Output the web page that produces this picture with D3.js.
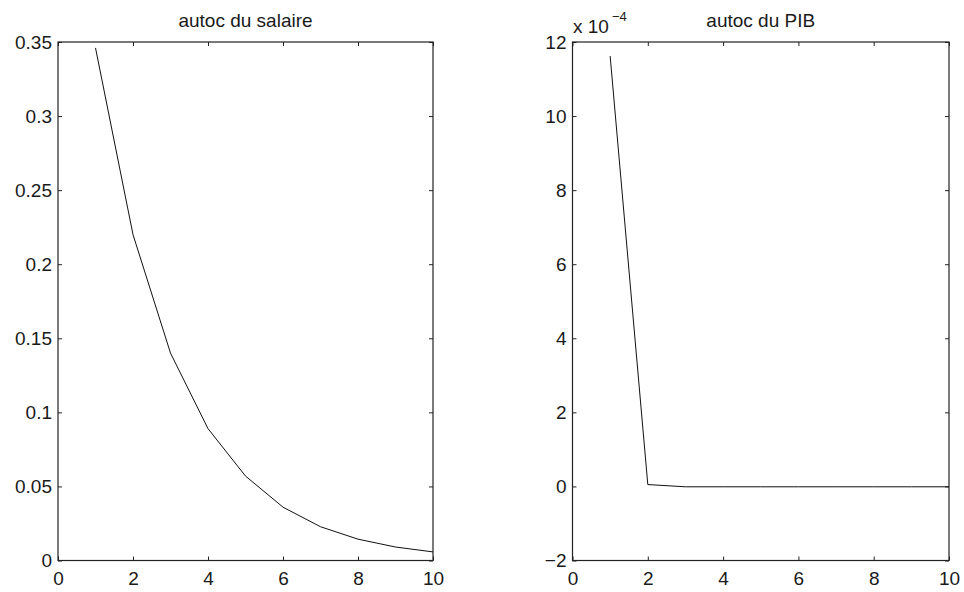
<!DOCTYPE html>
<html><head><meta charset="utf-8">
<script src="https://cdn.jsdelivr.net/npm/d3@7"></script>
<style>body{margin:0;background:#fff}svg{display:block}text{font-family:"Liberation Sans",Arial,sans-serif;fill:#1a1a1a}</style>
</head><body>
<script>
const lags = [1,2,3,4,5,6,7,8,9,10];
const salaire = [0.346,0.220,0.140,0.089,0.057,0.036,0.0228,0.0144,0.0091,0.0058];
const pib = [11.62,0.05,-0.01,-0.01,-0.01,-0.01,-0.01,-0.01,-0.01,-0.01]; // x 1e-4
const xTicks = [0,2,4,6,8,10];
const salaireTicks = [0,0.05,0.1,0.15,0.2,0.25,0.3,0.35];
const pibTicks = [-2,0,2,4,6,8,10,12];
const titles = ["autoc du salaire","autoc du PIB"];

const W=964,H=592;
const svg=d3.select("body").append("svg").attr("width",W).attr("height",H);
const FS=19;

function panel(x0,x1,y0,y1,data,yDom,yTicks,title,fmt,exp){
  const x=d3.scaleLinear().domain([0,10]).range([x0,x1]);
  const y=d3.scaleLinear().domain(yDom).range([y1,y0]);
  const g=svg.append("g");
  const tl=4;
  const axB=d3.axisBottom(x).tickValues(xTicks).tickSizeInner(-tl).tickSizeOuter(0).tickPadding(11).tickFormat(d3.format("d"));
  const axT=d3.axisTop(x).tickValues(xTicks).tickSizeInner(-tl).tickSizeOuter(0).tickFormat("");
  const axL=d3.axisLeft(y).tickValues(yTicks).tickSizeInner(-tl).tickSizeOuter(0).tickPadding(6).tickFormat(fmt);
  const axR=d3.axisRight(y).tickValues(yTicks).tickSizeInner(-tl).tickSizeOuter(0).tickFormat("");
  [[axB,`translate(0,${y1})`],[axT,`translate(0,${y0})`],[axL,`translate(${x0},0)`],[axR,`translate(${x1},0)`]].forEach(([a,t])=>{
    const ag=g.append("g").attr("transform",t).call(a);
    ag.select(".domain").remove();
    ag.selectAll("line").attr("stroke","#222").attr("stroke-width",1);
    ag.selectAll("text").attr("font-size",FS).attr("fill","#1a1a1a").style("font-family","'Liberation Sans',Arial,sans-serif");
  });
  g.append("rect").attr("x",x0).attr("y",y0).attr("width",x1-x0).attr("height",y1-y0)
    .attr("fill","none").attr("stroke","#222").attr("stroke-width",1.2);
  const line=d3.line().x((d,i)=>x(lags[i])).y(d=>y(d));
  g.append("path").datum(data).attr("d",line).attr("fill","none").attr("stroke","#111").attr("stroke-width",1);
  g.append("text").attr("x",(x0+x1)/2).attr("y",y0-15.5).attr("text-anchor","middle").attr("font-size",FS).text(title);
  if(exp){
    const t=g.append("text").attr("x",x0+0.5).attr("y",y0-8.7).attr("font-size",FS);
    t.append("tspan").text("x 10");
    t.append("tspan").attr("dx",3).attr("dy",-12).attr("font-size",13).text("\u22124");
  }
}
panel(58,433,42,560.5,salaire,[0,0.35],salaireTicks,titles[0],d=>d===0?"0":String(d),false);
panel(572.5,949,42,560.5,pib,[-2,12],pibTicks,titles[1],d=>d<0?"\u2212"+Math.abs(d):String(d),true);
</script>
</body></html>
